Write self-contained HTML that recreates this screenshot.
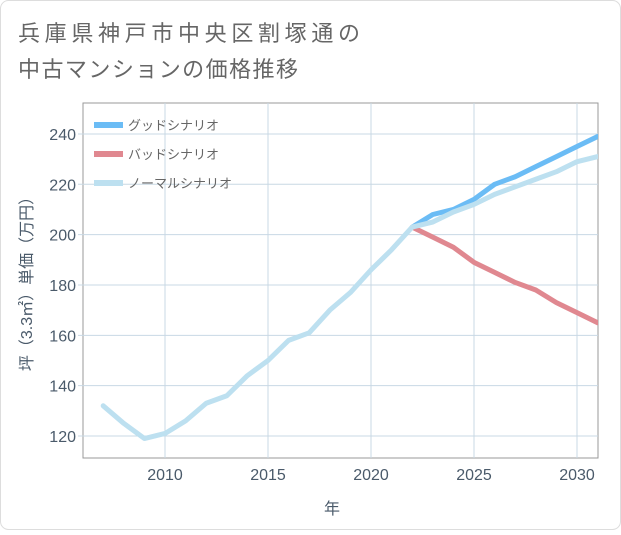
<!DOCTYPE html>
<html><head><meta charset="utf-8"><style>
body{margin:0;background:#fff;}
svg text{font-family:"Liberation Sans","Noto Sans CJK JP",sans-serif;}
</style></head><body>
<svg width="621" height="530" xmlns="http://www.w3.org/2000/svg">
<rect x="0.5" y="0.5" width="620" height="529" rx="8" fill="#fff" stroke="#ddd"/>
<text x="18" y="41" font-size="22" fill="#666" textLength="342" lengthAdjust="spacing">兵庫県神戸市中央区割塚通の</text>
<text x="18" y="77" font-size="22" fill="#666" textLength="280" lengthAdjust="spacing">中古マンションの価格推移</text>
<rect x="83" y="103" width="515" height="355" fill="#fff" stroke="#999"/>
<g id="grid"></g>
<g id="series"></g>
<g id="ticks"></g>
<text x="332" y="514" font-size="16" fill="#4a5a6a" text-anchor="middle">年</text>
<text transform="translate(32,280) rotate(-90)" font-size="16" fill="#4a5a6a" text-anchor="middle">坪（3.3㎡）単価（万円）</text>
<g>
<line x1="94" y1="125" x2="123" y2="125" stroke="#6bbcf5" stroke-width="6"/>
<text x="128" y="130" font-size="13" fill="#666">グッドシナリオ</text>
<line x1="94" y1="154" x2="123" y2="154" stroke="#e08890" stroke-width="6"/>
<text x="128" y="159" font-size="13" fill="#666">バッドシナリオ</text>
<line x1="94" y1="183" x2="123" y2="183" stroke="#bde0f0" stroke-width="6"/>
<text x="128" y="188" font-size="13" fill="#666">ノーマルシナリオ</text>
</g>
</svg>
<script>
const years=[2007,2008,2009,2010,2011,2012,2013,2014,2015,2016,2017,2018,2019,2020,2021,2022,2023,2024,2025,2026,2027,2028,2029,2030,2031];
const normalValues=[132,125,119,121,126,133,136,144,150,158,161,170,177,186,194,203,205,209,212,216,219,222,225,229,231];
const scenarioYears=[2022,2023,2024,2025,2026,2027,2028,2029,2030,2031];
const goodValues=[203,208,210,214,220,223,227,231,235,239];
const badValues=[203,199,195,189,185,181,178,173,169,165];
const xTicks=[2010,2015,2020,2025,2030];
const yTicks=[120,140,160,180,200,220,240];
const NS="http://www.w3.org/2000/svg";
const X=y=>165+(y-2010)*20.6;
const Y=v=>436-(v-120)*2.517;
const grid=document.getElementById('grid'),ticks=document.getElementById('ticks'),series=document.getElementById('series');
function mk(t,a){const e=document.createElementNS(NS,t);for(const k in a)e.setAttribute(k,a[k]);return e;}
xTicks.forEach(t=>{
 const l=mk('line',{x1:X(t),x2:X(t),y1:103,y2:458,stroke:'#c8d8e4','stroke-width':1});
 
 
 grid.appendChild(l);
 const tx=mk('text',{x:X(t),y:480,'font-size':16,fill:'#4a5a6a','text-anchor':'middle'});
 tx.textContent=t;
 
 
 ticks.appendChild(tx);
});
yTicks.forEach(t=>{
 const l=mk('line',{x1:78,x2:598,y1:Y(t),y2:Y(t),stroke:'#c8d8e4','stroke-width':1});
 
 
 grid.appendChild(l);
 const tx=mk('text',{x:76,y:Y(t)+6,'font-size':16,fill:'#4a5a6a','text-anchor':'end'});
 tx.textContent=t;
 
 
 ticks.appendChild(tx);
});
function line(xs,vs,color,name){
 const p=mk('polyline',{points:xs.map((x,i)=>X(x)+','+Y(vs[i])).join(' '),fill:'none',stroke:color,'stroke-width':5,'stroke-linejoin':'round','stroke-linecap':'round'});
 
 
 series.appendChild(p);
}
const clip=mk('clipPath',{id:'c'});clip.appendChild(mk('rect',{x:83,y:103,width:515,height:355}));
document.querySelector('svg').appendChild(clip);series.setAttribute('clip-path','url(#c)');
line(scenarioYears,badValues,'#e08890','bad-scenario-line');
line(scenarioYears,goodValues,'#6bbcf5','good-scenario-line');
line(years,normalValues,'#bde0f0','normal-scenario-line');
</script>
</body></html>
